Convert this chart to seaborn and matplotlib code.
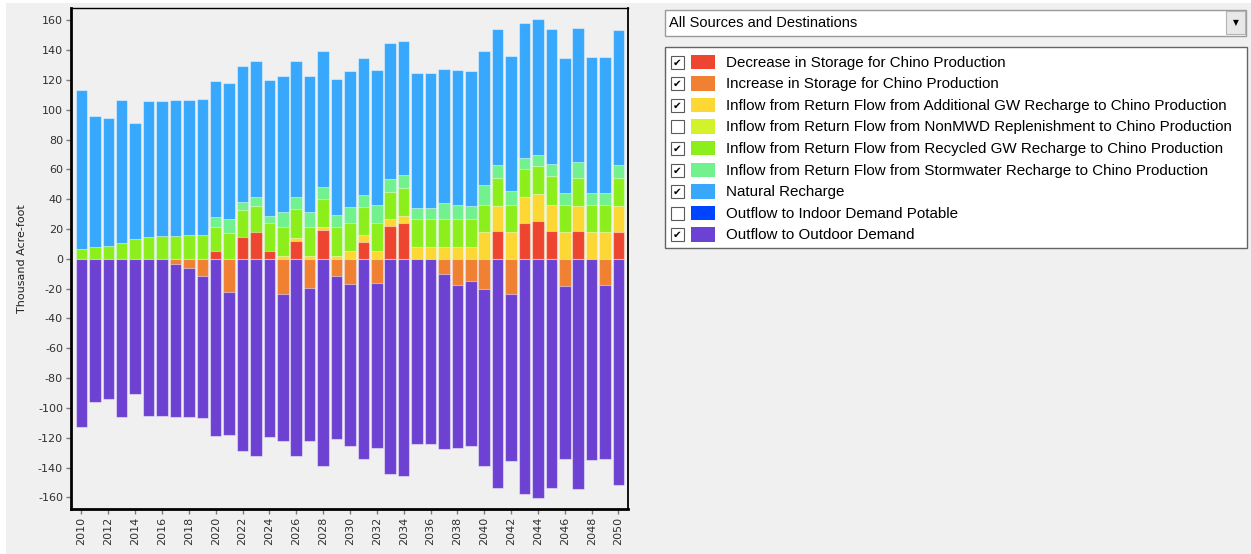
import matplotlib
matplotlib.use("Agg")
import matplotlib.pyplot as plt
import numpy as np
import pandas as pd
import seaborn as sns
from matplotlib.patches import Rectangle

sns.set_theme(style="white")
plt.rcParams["font.family"] = ["DejaVu Sans"]
plt.rcParams["axes.unicode_minus"] = False

# ---- data (thousand acre-foot) ----
years = list(range(2010, 2051))

decrease_storage = [0, 0, 0, 0, 0, 0, 0, 0, 0, 0,
                    5.1, 0, 14.5, 17.9, 5.1, 0, 11.8, 0, 19.0, 0,
                    0, 11.1, 0, 22.1, 23.7, 0, 0, 0, 0, 0,
                    0, 18.8, 0, 23.7, 25.5, 18.8, 0, 18.8, 0, 0, 17.9]
increase_storage = [0, 0, 0, 0, 0, 0, 0, -3.6, -6.0, -11.8,
                    0, -22.3, 0, 0, 0, -23.9, 0, -19.8, 0, -11.8,
                    -16.9, 0, -16.0, 0, 0, 0, 0, -10.0, -17.8, -15.2,
                    -20.3, 0, -23.6, 0, 0, 0, -18.5, 0, 0, -17.6, 0]
additional_gw = [0, 0, 0, 0, 0, 0, 0, 0, 0, 0,
                 0, 0, 0, 0, 0, 2.2, 2.3, 2.2, 2.2, 2.2,
                 5.1, 5.0, 5.1, 4.3, 5.1, 7.6, 7.6, 7.6, 7.6, 7.6,
                 17.9, 16.9, 17.9, 17.9, 17.8, 17.6, 17.9, 16.9, 17.9, 17.9, 17.8]
nonmwd = [0] * 41
recycled_gw = [6.7, 7.6, 8.5, 10.3, 13.6, 14.5, 15.2, 15.2, 16.1, 16.1,
               16.1, 17.0, 17.9, 17.8, 18.6, 19.0, 19.0, 19.0, 18.6, 19.0,
               18.6, 18.8, 18.6, 18.7, 18.8, 18.8, 18.8, 18.8, 18.8, 18.8,
               18.5, 18.6, 18.5, 18.8, 18.8, 18.8, 18.5, 18.6, 18.5, 18.5, 18.6]
stormwater = [0, 0, 0, 0, 0, 0, 0, 0, 0, 0,
              6.7, 10.0, 6.0, 5.9, 5.1, 10.1, 8.5, 10.1, 8.5, 8.5,
              11.2, 8.2, 12.7, 8.3, 8.3, 7.5, 7.5, 10.9, 10.0, 9.1,
              12.8, 8.5, 9.4, 7.5, 7.6, 8.5, 7.9, 10.3, 7.9, 7.9, 8.5]
natural_recharge = [106.6, 88.5, 86.1, 96.3, 77.6, 91.0, 90.3, 91.2, 90.3, 91.2,
                    91.5, 91.2, 91.0, 91.2, 91.2, 91.4, 91.2, 91.4, 91.2, 91.2,
                    91.2, 91.5, 90.4, 91.5, 90.5, 90.4, 90.4, 90.3, 90.4, 90.6,
                    90.3, 91.2, 90.3, 90.4, 91.0, 90.3, 90.3, 90.3, 90.9, 90.9, 90.5]
indoor_potable = [0] * 41
outdoor_demand = [-113.0, -96.1, -94.3, -106.3, -90.9, -105.4, -105.4, -102.7, -100.3, -95.2,
                  -119.0, -95.8, -129.1, -132.4, -119.7, -98.5, -132.4, -102.6, -139.1, -108.8,
                  -108.8, -134.2, -110.6, -144.4, -146.0, -123.9, -123.9, -117.5, -108.8, -110.5,
                  -118.8, -153.6, -112.2, -157.8, -160.3, -153.6, -115.7, -154.5, -135.1, -116.6, -152.0]

series_names = [
    "Decrease in Storage for Chino Production",
    "Increase in Storage for Chino Production",
    "Inflow from Return Flow from Additional GW Recharge to Chino Production",
    "Inflow from Return Flow from NonMWD Replenishment to Chino Production",
    "Inflow from Return Flow from Recycled GW Recharge to Chino Production",
    "Inflow from Return Flow from Stormwater Recharge to Chino Production",
    "Natural Recharge",
    "Outflow to Indoor Demand Potable",
    "Outflow to Outdoor Demand",
]
series_colors = ["#ee4530", "#f08133", "#fdd733", "#d4f22a", "#8cef1c",
                 "#72f28e", "#38a8fc", "#0044ff", "#6d42d2"]
series_checked = [True, True, True, False, True, True, True, False, True]

W, H = 1251, 554
BG = "#f0f0f0"

fig = plt.figure(figsize=(W / 100, H / 100), dpi=100, facecolor="white")
fig.add_artist(Rectangle((6 / W, 0), 1, 1 - 3 / H, transform=fig.transFigure,
                         facecolor=BG, edgecolor="none", zorder=-10))

ax = fig.add_axes([70.7 / W, 1 - 509.3 / H, (628.3 - 70.7) / W, (509.3 - 8.3) / H])
ax.set_facecolor(BG)

bar_kw = dict(order=years, saturation=1, width=0.86, errorbar=None,
              edgecolor=(1, 1, 1, 0.45), linewidth=0.8, ax=ax)

# positive stack, bottom -> top; drawn as cumulative overlays from the top down
pos = [(decrease_storage, series_colors[0]), (additional_gw, series_colors[2]),
       (recycled_gw, series_colors[4]), (stormwater, series_colors[5]),
       (natural_recharge, series_colors[6])]
cum = np.cumsum([np.array(v, dtype=float) for v, _ in pos], axis=0)
for i in reversed(range(len(pos))):
    vals = np.array(pos[i][0], dtype=float)
    h = np.where(vals > 0, cum[i], np.nan)
    sns.barplot(x=years, y=h, color=pos[i][1], **bar_kw)

# negative stack: storage increase next to zero, outdoor demand below it
inc = np.array(increase_storage, dtype=float)
out = np.array(outdoor_demand, dtype=float)
sns.barplot(x=years, y=np.where(out < 0, inc + out, np.nan), color=series_colors[8], **bar_kw)
sns.barplot(x=years, y=np.where(inc < 0, inc, np.nan), color=series_colors[1], **bar_kw)

ax.set_xlim(-0.8, 40.73)
ax.set_ylim(-168, 168)
ax.set_yticks(range(-160, 161, 20))
ax.set_xticks(range(0, 41, 2))
ax.set_xticklabels([str(y) for y in years[::2]], rotation=90)
ax.tick_params(axis="both", bottom=True, left=True, length=3.5, width=1, color="#7a7a7a",
               labelsize=8, labelcolor="#303030", pad=2)
ax.set_xlabel("")
ax.set_ylabel("Thousand Acre-foot", fontsize=8, color="#202020", labelpad=8)
for side, lw in [("left", 2), ("bottom", 2), ("top", 1), ("right", 1.3)]:
    ax.spines[side].set_color("black")
    ax.spines[side].set_linewidth(lw)

# ---- right-hand panel: selector and checkbox legend ----
ov = fig.add_axes([0, 0, 1, 1], zorder=5)
ov.set_xlim(0, W)
ov.set_ylim(H, 0)
ov.axis("off")

leg_font = ["Liberation Sans", "DejaVu Sans"]
ov.add_patch(Rectangle((665, 9.5), 581, 26, facecolor="white", edgecolor="#9a9a9a", lw=1))
ov.add_patch(Rectangle((1226, 11), 19, 22.5, facecolor="#e8e8e8", edgecolor="#b4b4b4", lw=0.8))
ov.text(1235.5, 22.5, "▼", fontsize=5.5, ha="center", va="center", color="black")
ov.text(669, 23, "All Sources and Destinations", fontsize=10.5, family=leg_font,
        ha="left", va="center", color="black")

ov.add_patch(Rectangle((665, 47), 582, 201, facecolor="white", edgecolor="#646464", lw=1))
for i, (name, col, chk) in enumerate(zip(series_names, series_colors, series_checked)):
    y = 62 + 21.6 * i
    ov.add_patch(Rectangle((671, y - 6.5), 13, 13, facecolor="white", edgecolor="#5a5a5a", lw=0.8))
    if chk:
        ov.text(677.5, y + 0.5, "✔", fontsize=7.5, ha="center", va="center", color="black")
    ov.add_patch(Rectangle((691, y - 7.5), 24, 14.5, facecolor=col, edgecolor="none"))
    ov.text(726, y + 0.5, name, fontsize=10.9, family=leg_font, ha="left", va="center",
            color="black")

fig.savefig("out.png", dpi=100, facecolor=fig.get_facecolor())
